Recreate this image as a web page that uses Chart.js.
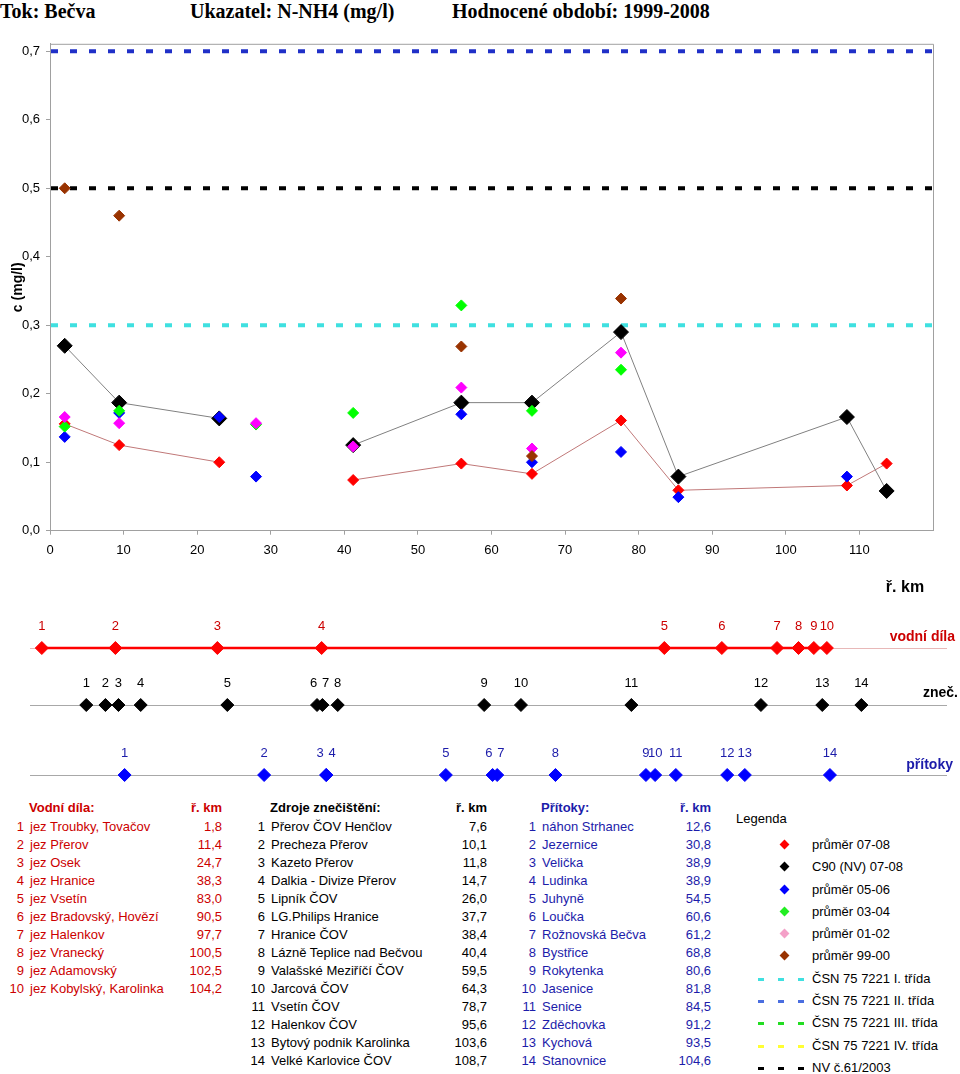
<!DOCTYPE html>
<html>
<head>
<meta charset="utf-8">
<script src="https://cdn.jsdelivr.net/npm/chart.js@4.4.1/dist/chart.umd.min.js"></script>
<style>
body { margin:0; background:#fff; font-family:"Liberation Sans", Arial, sans-serif; color:#000; }
#page { position:relative; width:960px; height:1074px; overflow:hidden; }
.title { position:absolute; top:0; font-family:"Liberation Serif", "Times New Roman", serif; font-weight:bold; font-size:20px; line-height:22px; white-space:nowrap; }
canvas { position:absolute; left:0; }
.rowname { position:absolute; font-weight:bold; font-size:14px; line-height:16px; white-space:nowrap; }
table.tab { position:absolute; border-collapse:collapse; table-layout:fixed; font-size:13px; }
table.tab td { padding:0; height:18px; line-height:18px; white-space:nowrap; overflow:visible; }
table.tab tr.head td { height:20px; font-weight:bold; }
td.n { text-align:right; }
td.v { text-align:right; }
#legend { position:absolute; left:736px; top:810px; font-size:13px; }
#legend .lt { line-height:18px; margin-bottom:6px; }
.li { position:relative; height:22.3px; line-height:22.3px; white-space:nowrap; }
.sw { position:absolute; left:22px; top:0; width:54px; height:22.3px; }
.dia { position:absolute; left:23px; top:7px; width:7px; height:7px; transform:rotate(45deg); }
.dash { position:absolute; left:0; top:10px; width:46px; height:3px; }
.lx { position:absolute; left:76px; }
</style>
</head>
<body>
<div id="page">
  <div class="title" style="left:0">Tok: Bečva</div>
  <div class="title" style="left:190px">Ukazatel: N-NH4 (mg/l)</div>
  <div class="title" style="left:452px">Hodnocené období: 1999-2008</div>

  <canvas id="graf" width="960" height="570" style="top:30px"></canvas>

  <canvas id="pasVD" width="960" height="56" style="top:608px"></canvas>
  <canvas id="pasZN" width="960" height="56" style="top:665px"></canvas>
  <canvas id="pasPR" width="960" height="56" style="top:735px"></canvas>
  <div class="rowname" style="right:5px;top:628px;color:#cc0000">vodní díla</div>
  <div class="rowname" style="right:2px;top:684px;color:#000">zneč.</div>
  <div class="rowname" style="right:7px;top:756px;color:#1c1caa">přítoky</div>

  <table class="tab" id="tabVD" style="left:0;top:798px;width:222px;color:#cc0000">
    <colgroup><col style="width:24px"><col style="width:150px"><col style="width:48px"></colgroup>
  </table>
  <table class="tab" id="tabZN" style="left:240px;top:798px;width:247px">
    <colgroup><col style="width:25px"><col style="width:170px"><col style="width:52px"></colgroup>
  </table>
  <table class="tab" id="tabPR" style="left:500px;top:798px;width:211px;color:#1c1caa">
    <colgroup><col style="width:36px"><col style="width:125px"><col style="width:50px"></colgroup>
  </table>

  <div id="legend"><div class="lt">Legenda</div></div>
</div>

<script>
// osa x / y
const xTicks = [0, 10, 20, 30, 40, 50, 60, 70, 80, 90, 100, 110]
const yTicks = [0, 0.1, 0.2, 0.3, 0.4, 0.5, 0.6, 0.7]

// profily (ř. km) a hodnoty N-NH4
const profilKm   = [2.0, 9.4, 23.0, 28.0, 41.2, 55.9, 65.5, 77.6, 85.4, 108.3, 113.7]
const prumer0708 = [0.156, 0.125, 0.100, null, 0.074, 0.098, 0.083, 0.161, 0.059, 0.066, 0.098]
const c90_0708   = [0.270, 0.187, 0.164, null, 0.125, 0.187, 0.187, 0.290, 0.079, 0.166, 0.058]
const prumer0506 = [0.137, 0.172, 0.166, 0.079, null, 0.170, 0.100, 0.115, 0.049, 0.079, null]
const prumer0304 = [0.152, 0.175, null, 0.155, 0.172, 0.329, 0.175, 0.235, null, null, null]
const prumer0102 = [0.166, 0.157, null, 0.157, 0.123, 0.209, 0.120, 0.260, null, null, null]
const prumer9900 = [0.500, 0.460, null, null, null, 0.269, 0.109, 0.339, null, null, null]

// limity
const csnTridy = [0.3, 0.7, 2.0, 4.0]
const nvLimit = 0.5

// vodni dila, zdroje znecisteni, pritoky
const vdNazvy = ['jez Troubky, Tovačov', 'jez Přerov', 'jez Osek', 'jez Hranice', 'jez Vsetín', 'jez Bradovský, Hovězí', 'jez Halenkov', 'jez Vranecký', 'jez Adamovský', 'jez Kobylský, Karolinka']
const vdKm = [1.8, 11.4, 24.7, 38.3, 83.0, 90.5, 97.7, 100.5, 102.5, 104.2]
const znNazvy = ['Přerov ČOV Henčlov', 'Precheza Přerov', 'Kazeto Přerov', 'Dalkia - Divize Přerov', 'Lipník ČOV', 'LG.Philips Hranice', 'Hranice ČOV', 'Lázně Teplice nad Bečvou', 'Valašské Meziříčí ČOV', 'Jarcová ČOV', 'Vsetín ČOV', 'Halenkov ČOV', 'Bytový podnik Karolinka', 'Velké Karlovice ČOV']
const znKm = [7.6, 10.1, 11.8, 14.7, 26.0, 37.7, 38.4, 40.4, 59.5, 64.3, 78.7, 95.6, 103.6, 108.7]
const prNazvy = ['náhon Strhanec', 'Jezernice', 'Velička', 'Ludinka', 'Juhyně', 'Loučka', 'Rožnovská Bečva', 'Bystřice', 'Rokytenka', 'Jasenice', 'Senice', 'Zděchovka', 'Kychová', 'Stanovnice']
const prKm = [12.6, 30.8, 38.9, 38.9, 54.5, 60.6, 61.2, 68.8, 80.6, 81.8, 84.5, 91.2, 93.5, 104.6]

const fmt = v => v.toFixed(1).replace('.', ',')
const body = '"Liberation Sans", Arial, sans-serif'

let body0 = (arr) => profilKm.map((x, i) => ({x: x, y: arr[i]}))

let serie = [
    {label: 'průměr 07-08', data: body0(prumer0708), color: '#ff0000', legColor: '#ff0000', r: 5.5, line: '#c07878', order: 6},
    {label: 'C90 (NV) 07-08', data: body0(c90_0708), color: '#000000', legColor: '#000000', r: 7.5, line: '#808080', order: 5},
    {label: 'průměr 05-06', data: body0(prumer0506), color: '#0000ff', legColor: '#0000ff', r: 5.5, order: 4},
    {label: 'průměr 03-04', data: body0(prumer0304), color: '#00ff00', legColor: '#22ee22', r: 5.5, order: 3},
    {label: 'průměr 01-02', data: body0(prumer0102), color: '#ff00ff', legColor: '#f4a0c8', r: 5.5, order: 2},
    {label: 'průměr 99-00', data: body0(prumer9900), color: '#993300', legColor: '#993300', r: 5.5, order: 1}
]

let limity = [
    {label: 'ČSN 75 7221 I. třída', value: csnTridy[0], color: '#3fe0e0', legColor: '#3fe0e0'},
    {label: 'ČSN 75 7221 II. třída', value: csnTridy[1], color: '#2030c8', legColor: '#4a6ee0'},
    {label: 'ČSN 75 7221 III. třída', value: csnTridy[2], color: '#22dd22', legColor: '#22dd22'},
    {label: 'ČSN 75 7221 IV. třída', value: csnTridy[3], color: '#ffff33', legColor: '#ffff33'},
    {label: 'NV č.61/2003', value: nvLimit, color: '#000000', legColor: '#000000'}
]

let limitPlugin = {
    id: 'limity',
    beforeDatasetsDraw(chart) {
        let ctx = chart.ctx, a = chart.chartArea, ys = chart.scales.y
        ctx.save()
        ctx.beginPath()
        ctx.rect(a.left, a.top, a.right - a.left, a.bottom - a.top)
        ctx.clip()
        ctx.lineWidth = 4
        ctx.setLineDash([7, 12])
        limity.forEach(l => {
            let y = ys.getPixelForValue(l.value)
            if (y < a.top - 5 || y > a.bottom + 5) return
            ctx.strokeStyle = l.color
            ctx.beginPath()
            ctx.moveTo(a.left + 1, y)
            ctx.lineTo(a.right, y)
            ctx.stroke()
        })
        ctx.restore()
    },
    afterDraw(chart) {
        let ctx = chart.ctx, a = chart.chartArea
        ctx.save()
        ctx.strokeStyle = '#a0a0a0'
        ctx.lineWidth = 1
        ctx.beginPath()
        ctx.moveTo(a.left, a.top + 0.5)
        ctx.lineTo(a.right + 0.5, a.top + 0.5)
        ctx.lineTo(a.right + 0.5, a.bottom)
        ctx.stroke()
        ctx.restore()
    }
}

new Chart(document.getElementById('graf'), {
    type: 'scatter',
    data: {
        datasets: serie.map(s => ({
            label: s.label,
            data: s.data,
            showLine: !!s.line,
            borderColor: s.line || s.color,
            borderWidth: 1,
            pointStyle: 'rectRot',
            pointRadius: s.r,
            pointHoverRadius: s.r,
            pointBackgroundColor: s.color,
            pointBorderColor: s.color,
            pointBorderWidth: 1,
            spanGaps: false,
            order: s.order,
            clip: false
        }))
    },
    options: {
        responsive: false,
        animation: false,
        events: [],
        layout: {padding: {top: 13, right: 27, left: 0, bottom: 0}, autoPadding: false},
        plugins: {legend: {display: false}, tooltip: {enabled: false}},
        scales: {
            x: {
                type: 'linear', min: 0, max: 120,
                afterBuildTicks: s => { s.ticks = xTicks.map(v => ({value: v})) },
                afterFit: s => { s.height = 69.3 },
                grid: {drawOnChartArea: false, tickLength: 4, color: '#a0a0a0'},
                border: {color: '#a0a0a0'},
                ticks: {color: '#000', font: {family: body, size: 13}, padding: 8, maxRotation: 0},
                title: {display: true, text: 'ř. km  ', align: 'end', color: '#000', font: {family: body, size: 16, weight: 'bold'}, padding: {top: 4, bottom: 3}}
            },
            y: {
                type: 'linear', min: 0, max: 0.711,
                afterBuildTicks: s => { s.ticks = yTicks.map(v => ({value: v})) },
                afterFit: s => { s.width = 50 },
                grid: {drawOnChartArea: false, tickLength: 4, color: '#a0a0a0'},
                border: {color: '#a0a0a0'},
                ticks: {color: '#000', font: {family: body, size: 13}, padding: 6, callback: v => fmt(v)},
                title: {display: true, text: 'c (mg/l)', color: '#000', font: {family: body, size: 14, weight: 'bold'}, padding: {top: 10, bottom: 0}}
            }
        }
    },
    plugins: [limitPlugin]
})

// pasy s vodnimi dily, zdroji a pritoky
function vytvorPas(id, km, barva, textBarva, zvyraznit, zakladniBarva)
{
    let pasPlugin = {
        id: 'pas' + id,
        beforeDatasetsDraw(chart) {
            let ctx = chart.ctx, a = chart.chartArea
            let y = chart.scales.y.getPixelForValue(0)
            ctx.save()
            ctx.strokeStyle = zakladniBarva
            ctx.lineWidth = 1
            ctx.beginPath()
            ctx.moveTo(a.left + 2, Math.round(y) + 0.5)
            ctx.lineTo(a.right - 1, Math.round(y) + 0.5)
            ctx.stroke()
            ctx.restore()
        },
        afterDatasetsDraw(chart) {
            let ctx = chart.ctx
            let pts = chart.getDatasetMeta(0).data
            ctx.save()
            ctx.fillStyle = textBarva
            ctx.font = '13px ' + body
            ctx.textAlign = 'center'
            ctx.textBaseline = 'middle'
            pts.forEach((p, i) => {
                let dx = 0
                if (i > 0) {
                    let d = p.x - pts[i - 1].x
                    if (d < 8) dx += (12 - d) / 2
                }
                if (i < pts.length - 1) {
                    let d = pts[i + 1].x - p.x
                    if (d < 8) dx -= (12 - d) / 2
                }
                ctx.fillText(String(i + 1), p.x + dx, p.y - 22)
            })
            ctx.restore()
        }
    }
    new Chart(document.getElementById(id), {
        type: 'scatter',
        data: {
            datasets: [{
                data: km.map(k => ({x: k, y: 0})),
                showLine: zvyraznit,
                borderColor: barva,
                borderWidth: 2.5,
                pointStyle: 'rectRot',
                pointRadius: 6.5,
                pointHoverRadius: 6.5,
                pointBackgroundColor: barva,
                pointBorderColor: barva,
                pointBorderWidth: 1,
                clip: false
            }]
        },
        options: {
            responsive: false,
            animation: false,
            events: [],
            layout: {padding: {left: 28, right: 12, top: 0, bottom: 16}, autoPadding: false},
            plugins: {legend: {display: false}, tooltip: {enabled: false}},
            scales: {
                x: {type: 'linear', min: 0, max: 120, display: false},
                y: {type: 'linear', min: 0, max: 1, display: false}
            }
        },
        plugins: [pasPlugin]
    })
}

vytvorPas('pasVD', vdKm, '#ff0000', '#cc0000', true, '#e8b8b8')
vytvorPas('pasZN', znKm, '#000000', '#000000', false, '#a8a8a8')
vytvorPas('pasPR', prKm, '#0000ff', '#1c1caa', false, '#a8a8a8')

// tabulky
function naplnTabulku(id, nadpis, nazvy, km)
{
    let tab = document.getElementById(id)
    let html = `<tr class="head"><td></td><td style="padding-left:5px">${nadpis}</td><td class="v">ř. km</td></tr>`
    for (var i = 0; i < nazvy.length; i++)
    {
        html += `<tr><td class="n">${i + 1}</td><td style="padding-left:6px">${nazvy[i]}</td><td class="v">${fmt(km[i])}</td></tr>`
    }
    tab.innerHTML += html
}
naplnTabulku('tabVD', 'Vodní díla:', vdNazvy, vdKm)
naplnTabulku('tabZN', 'Zdroje znečištění:', znNazvy, znKm)
naplnTabulku('tabPR', 'Přítoky:', prNazvy, prKm)

// legenda
let legenda = document.getElementById('legend')
serie.forEach(s => {
    legenda.innerHTML += `<div class="li"><div class="sw"><div class="dia" style="background:${s.legColor}"></div></div><span class="lx">${s.label}</span></div>`
})
limity.forEach(l => {
    let g = `repeating-linear-gradient(to right, ${l.legColor} 0 6px, transparent 6px 20px)`
    legenda.innerHTML += `<div class="li"><div class="sw"><div class="dash" style="background:${g}"></div></div><span class="lx">${l.label}</span></div>`
})
</script>
</body>
</html>
